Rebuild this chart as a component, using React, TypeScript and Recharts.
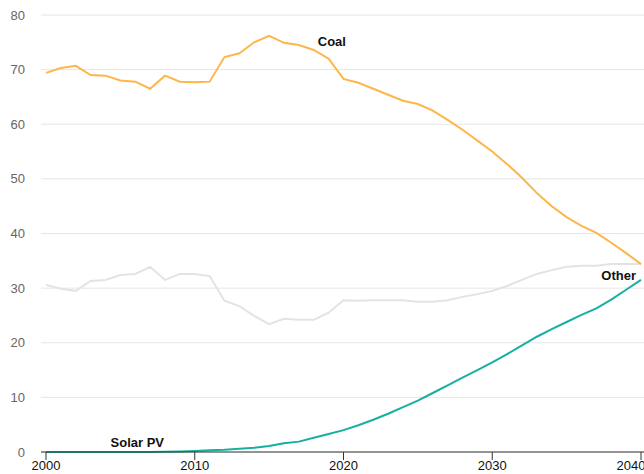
import React from 'react';
import { LineChart, Line, XAxis, YAxis, CartesianGrid } from 'recharts';

const years = Array.from({ length: 41 }, (_, i) => 2000 + i);

const coal = [
  69.4, 70.3, 70.7, 69.0, 68.9, 68.0, 67.8, 66.5, 68.9, 67.8,
  67.7, 67.8, 72.3, 73.0, 75.0, 76.2, 74.9, 74.5, 73.6, 72.0,
  68.3, 67.6, 66.5, 65.4, 64.3, 63.7, 62.5, 60.8, 59.0, 57.0,
  55.0, 52.7, 50.2, 47.4, 45.0, 43.0, 41.4, 40.1, 38.3, 36.4,
  34.4,
];

const other = [
  30.6, 29.9, 29.5, 31.3, 31.5, 32.4, 32.6, 33.9, 31.5, 32.6,
  32.6, 32.2, 27.7, 26.7, 24.9, 23.4, 24.4, 24.2, 24.2, 25.5,
  27.8, 27.7, 27.8, 27.8, 27.8, 27.5, 27.5, 27.8, 28.4, 28.9,
  29.5, 30.4, 31.5, 32.6, 33.3, 33.9, 34.1, 34.1, 34.4, 34.4,
  34.4,
];

const solarPv = [
  0.0, 0.0, 0.0, 0.0, 0.0, 0.0, 0.0, 0.0, 0.05, 0.1,
  0.2, 0.3, 0.4, 0.6, 0.8, 1.1, 1.6, 1.9, 2.6, 3.3,
  4.0, 4.9, 5.9, 7.0, 8.2, 9.4, 10.8, 12.2, 13.6, 15.0,
  16.4, 17.9, 19.5, 21.1, 22.5, 23.8, 25.1, 26.3, 27.9, 29.7,
  31.5,
];

const yTicks = [0, 10, 20, 30, 40, 50, 60, 70, 80];
const xTicks = [2000, 2010, 2020, 2030, 2040];

const data = years.map((year, i) => ({
  year,
  coal: coal[i],
  other: other[i],
  solarPv: solarPv[i],
}));

const FONT = '"Liberation Sans", Arial, sans-serif';

// draws the series name next to one chosen point of the line
const nameLabel = (text: string, at: number, dx: number, dy: number, anchor: string) =>
  (props: any) => {
    if (props.index !== at) return null;
    return (
      <text
        x={props.x + dx}
        y={props.y + dy}
        textAnchor={anchor}
        dominantBaseline="middle"
        fontSize={13}
        fontWeight="bold"
        fontFamily={FONT}
        fill="#111"
      >
        {text}
      </text>
    );
  };

export default function App() {
  return (
    <div style={{ position: 'absolute', left: 0, top: 0, background: '#fff' }}>
      <LineChart
        width={644}
        height={474}
        data={data}
        margin={{ top: 15, right: 0, left: 0, bottom: 0 }}
      >
        <CartesianGrid vertical={false} stroke="#e6e6e6" />
        <XAxis
          dataKey="year"
          type="number"
          domain={[2000, 2040]}
          ticks={xTicks}
          padding={{ left: 5, right: 3 }}
          height={22}
          tickSize={8}
          tickMargin={1}
          axisLine={{ stroke: '#333' }}
          tickLine={{ stroke: '#333' }}
          tick={{ fill: '#111', fontSize: 13, fontFamily: FONT }}
        />
        <YAxis
          domain={[0, 80]}
          ticks={yTicks}
          width={41}
          axisLine={false}
          tickLine={false}
          tickSize={0}
          tickMargin={16}
          tick={{ fill: '#666', fontSize: 13, fontFamily: FONT }}
        />
        <Line
          dataKey="other"
          stroke="#e3e3e3"
          strokeWidth={2}
          dot={false}
          isAnimationActive={false}
          label={nameLabel('Other', 40, -5, 12, 'end')}
        />
        <Line
          dataKey="coal"
          stroke="#fdb64a"
          strokeWidth={2}
          dot={false}
          isAnimationActive={false}
          label={nameLabel('Coal', 18, 4, -7, 'start')}
        />
        <Line
          dataKey="solarPv"
          stroke="#17b0a0"
          strokeWidth={2}
          dot={false}
          isAnimationActive={false}
          label={nameLabel('Solar PV', 6, 2, -8, 'middle')}
        />
      </LineChart>
    </div>
  );
}
